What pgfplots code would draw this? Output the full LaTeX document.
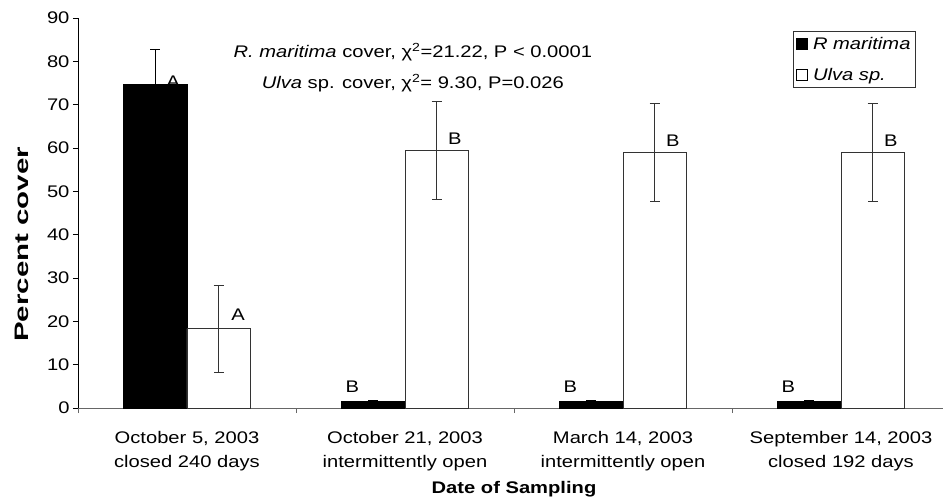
\documentclass[border=0pt]{standalone}
\usepackage{fontspec}
\setmainfont{Liberation Sans}[FakeStretch=1.2]
\usepackage{pgfplots}
\pgfplotsset{compat=1.18}

\newcommand{\fs}{\fontsize{16.8}{24}\selectfont}

\begin{document}
\begin{tikzpicture}
\begin{axis}[
    scale only axis,
    width=872pt, height=390pt,
    xmin=-0.5, xmax=3.5,
    ymin=0, ymax=90,
    ytick={0,10,...,90},
    xtick={-0.5,0.5,1.5,2.5,3.5},
    xticklabels={},
    extra x ticks={0,1,2,3},
    extra x tick labels={{October 5, 2003\\closed 240 days},
                         {October 21, 2003\\intermittently open},
                         {March 14, 2003\\intermittently open},
                         {September 14, 2003\\closed 192 days}},
    extra x tick style={major tick length=0pt},
    x tick label style={align=center, font=\fs, yshift=-20pt},
    y tick label style={font=\fs},
    /pgf/number format/assume math mode=true,
    axis x line*=bottom, axis y line*=left,
    x axis line style={gray!80!black, line width=0.8pt},
    y axis line style={black, line width=0.8pt},
    tick align=outside,
    major tick length=5pt,
    x tick style={gray!80!black, line width=0.8pt},
    y tick style={black, line width=0.8pt},
    clip=false,
    ylabel={\scalebox{1.26}[1]{\textbf{Percent cover}}},
    ylabel style={at={(axis description cs:-0.064,0.42)}, anchor=center,
        font=\fontsize{19.5}{24}\selectfont},
    xlabel={\textbf{Date of Sampling}},
    xlabel style={at={(axis description cs:0.5,-0.207)}, anchor=center, font=\fs},
    legend style={at={(axis description cs:0.82,0.967)}, anchor=north west,
        draw=black!80, line width=0.8pt, font=\fs\itshape,
        inner xsep=3pt, inner ysep=4pt, row sep=13pt, column sep=3pt,
        cells={anchor=west}},
    legend image code/.code={\draw[#1, draw=black, line width=0.6pt] (0pt,-5.5pt) rectangle (11pt,5.5pt);},
    error bars/error bar style={black!80, line width=0.8pt},
    error bars/error mark options={rotate=90, mark size=5pt, black!80, line width=0.8pt},
]
% R. maritima
\addplot[ybar, bar width=0.29, bar shift=0pt, fill=black, draw=black, line width=0.8pt,
    error bars/.cd, y dir=both, y explicit,
    error bar style={black, line width=0.8pt},
    error mark options={rotate=90, mark size=5pt, black, line width=0.8pt}]
    coordinates {(-0.145,74.6) +- (0,8.2) (0.855,1.5) +- (0,0.3) (1.855,1.5) +- (0,0.3) (2.855,1.5) +- (0,0.3)};
% Ulva sp.
\addplot[ybar, bar width=0.29, bar shift=0pt, fill=white, draw=black!80, line width=0.8pt,
    error bars/.cd, y dir=both, y explicit]
    coordinates {(0.145,18.3) +- (0,10.0) (1.145,59.4) +- (0,11.3) (2.145,58.9) +- (0,11.3) (3.145,58.9) +- (0,11.3)};
\legend{R maritima, Ulva sp.}

\node[font=\fs] at (axis cs:-0.064,75.4) {A};
\node[font=\fs] at (axis cs:0.234,21.5) {A};
\node[font=\fs] at (axis cs:0.759,4.8) {B};
\node[font=\fs] at (axis cs:1.229,62.2) {B};
\node[font=\fs] at (axis cs:1.759,4.8) {B};
\node[font=\fs] at (axis cs:2.229,61.7) {B};
\node[font=\fs] at (axis cs:2.759,4.8) {B};
\node[font=\fs] at (axis cs:3.229,61.7) {B};

\node[font=\fs] at (axis cs:1.036,82.2) {\textit{R. maritima} cover, χ\textsuperscript{2}=21.22, P < 0.0001};
\node[font=\fs] at (axis cs:1.036,75.0) {\textit{Ulva} sp. cover, χ\textsuperscript{2}= 9.30, P=0.026};
\end{axis}
\pgfresetboundingbox
\path[use as bounding box] (-78pt,-93pt) rectangle (865pt,408pt);
\end{tikzpicture}
\end{document}
